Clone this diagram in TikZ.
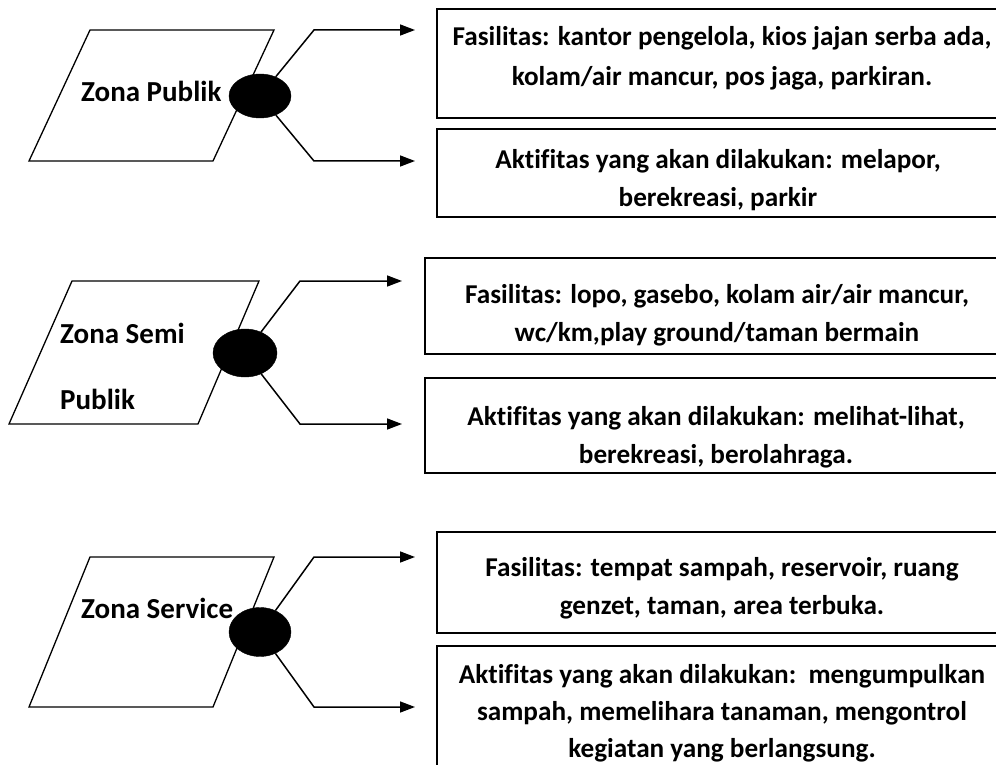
\documentclass[tikz,border=0pt]{standalone}
\usepackage{fontspec}
\setmainfont[Ligatures=NoCommon]{Carlito}
\usetikzlibrary{arrows.meta,shapes.geometric}
\begin{document}
\begin{tikzpicture}[x=1pt,y=-1pt,
  box/.style={draw, line width=1.8pt, rectangle, inner sep=0pt, anchor=north west},
  btext/.style={align=center, inner sep=0pt, font=\fontsize{27.2}{38}\selectfont\bfseries},
  dot/.style={ellipse, fill=black, draw=black, inner sep=0pt},
  para/.style={line width=1.3pt, line join=miter},
  conn/.style={line width=1.5pt, -{Triangle[length=15pt,width=11pt]}},
  zlabel/.style={font=\fontsize{29}{30}\selectfont\bfseries, inner sep=0pt, anchor=base west}
]
\useasboundingbox (0,0) rectangle (996,765);

% ---------- Group 1 ----------
\draw[para] (90,30) -- (274,30) -- (213,161) -- (29,161) -- cycle;
\node[zlabel] (z1) at (81,102) {Zona Publik};
\node[dot, minimum width=62pt, minimum height=44pt] (e1) at (260,96) {};
\node[box, minimum width=568pt, minimum height=109pt] (b1a) at (436,8) {};
\node[btext, font=\fontsize{27.2}{40}\selectfont\bfseries] (t1a) at (722,58.5)
  {Fasilitas: kantor pengelola, kios jajan serba ada,\\kolam/air mancur, pos jaga, parkiran.};
\node[box, minimum width=568pt, minimum height=88pt] (b1b) at (436,128) {};
\node[btext] (t1b) at (718,180)
  {Aktifitas yang akan dilakukan: melapor,\\berekreasi, parkir};
\coordinate (u1) at (314,30); \coordinate (a1) at (415,30);
\coordinate (l1) at (314,161); \coordinate (s1) at (415,161);
\draw[conn] (e1) -- (u1) -- (a1);
\draw[conn] (e1) -- (l1) -- (s1);

% ---------- Group 2 ----------
\draw[para] (72,281) -- (259,281) -- (198,424) -- (9,424) -- cycle;
\node[zlabel] (z2a) at (60,343) {Zona Semi};
\node[zlabel] (z2b) at (60,409) {Publik};
\node[dot, minimum width=64pt, minimum height=48pt] (e2) at (245,353) {};
\node[box, minimum width=586pt, minimum height=96pt] (b2a) at (424,257) {};
\node[btext] (t2a) at (717,315)
  {Fasilitas: lopo, gasebo, kolam air/air mancur,\\wc/km,play ground/taman bermain};
\node[box, minimum width=586pt, minimum height=95pt] (b2b) at (424,377) {};
\node[btext] (t2b) at (716,437)
  {Aktifitas yang akan dilakukan: melihat-lihat,\\berekreasi, berolahraga.};
\coordinate (u2) at (300,281); \coordinate (a2) at (402,281);
\coordinate (l2) at (300,424); \coordinate (s2) at (402,424);
\draw[conn] (e2) -- (u2) -- (a2);
\draw[conn] (e2) -- (l2) -- (s2);

% ---------- Group 3 ----------
\draw[para] (90,557) -- (274,557) -- (213,707) -- (29,707) -- cycle;
\node[zlabel] (z3) at (81,618) {Zona Service};
\node[dot, minimum width=62pt, minimum height=49pt] (e3) at (260,632) {};
\node[box, minimum width=570pt, minimum height=101pt] (b3a) at (436,531) {};
\node[btext] (t3a) at (722,588)
  {Fasilitas: tempat sampah, reservoir, ruang\\genzet, taman, area terbuka.};
\node[box, minimum width=570pt, minimum height=130pt] (b3b) at (436,645) {};
\node[btext, font=\fontsize{27.2}{37}\selectfont\bfseries] (t3b) at (722,713)
  {Aktifitas yang akan dilakukan:\ \ mengumpulkan\\sampah, memelihara tanaman, mengontrol\\kegiatan yang berlangsung.};
\coordinate (u3) at (314,557); \coordinate (a3) at (415,557);
\coordinate (l3) at (314,707); \coordinate (s3) at (415,707);
\draw[conn] (e3) -- (u3) -- (a3);
\draw[conn] (e3) -- (l3) -- (s3);
\end{tikzpicture}
\end{document}
